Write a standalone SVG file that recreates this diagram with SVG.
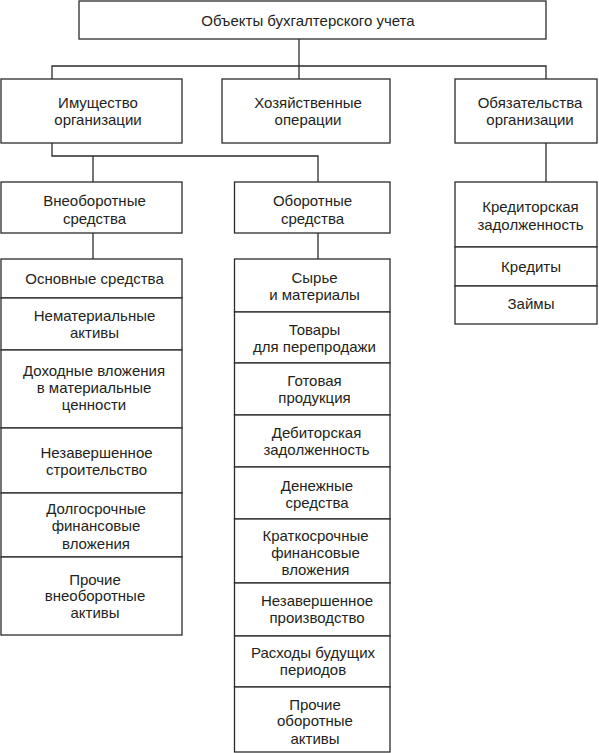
<svg xmlns="http://www.w3.org/2000/svg" width="599" height="753" viewBox="0 0 599 753">
<style>
rect{fill:#fff;stroke:#2b2b2b;stroke-width:1.3}
.c line,.c polyline{fill:none;stroke:#2b2b2b;stroke-width:1.3}
text{font-family:"Liberation Sans",Arial,sans-serif;font-size:15px;fill:#231f20;text-anchor:middle}
</style>
<rect x="0" y="0" width="599" height="753" style="stroke:none"/>
<g class="c" id="connectors">
<line x1="299" y1="39" x2="299" y2="79"/>
<polyline points="52,79 52,66 546,66 546,79"/>
<polyline points="52,143 52,156 318,156 318,182"/>
<line x1="93" y1="156" x2="93" y2="182"/>
<line x1="93" y1="233" x2="93" y2="259"/>
<line x1="318" y1="233" x2="318" y2="259"/>
<line x1="546" y1="143" x2="546" y2="182"/>
</g>
<g id="root"><rect x="79" y="1" width="467" height="38"/><text x="308" y="26">Объекты бухгалтерского учета</text></g>
<g id="imushchestvo"><rect x="1" y="79" width="181" height="64"/><text x="98" y="108">Имущество</text><text x="98" y="125">организации</text></g>
<g id="operatsii"><rect x="222" y="79" width="168" height="64"/><text x="308" y="108">Хозяйственные</text><text x="308" y="125">операции</text></g>
<g id="obyazatelstva"><rect x="455" y="79" width="142" height="64"/><text x="530" y="108">Обязательства</text><text x="530" y="125">организации</text></g>
<g id="vneoborotnye"><rect x="1" y="182" width="181" height="51"/><text x="94.5" y="206">Внеоборотные</text><text x="94.5" y="223.5">средства</text></g>
<g id="oborotnye"><rect x="234.5" y="182" width="155.5" height="51"/><text x="312.5" y="206">Оборотные</text><text x="312.5" y="223.5">средства</text></g>
<g id="kreditorskaya"><rect x="455" y="182" width="142" height="65"/><text x="530.5" y="212">Кредиторская</text><text x="530.5" y="229.5">задолженность</text></g>
<g id="kredity"><rect x="455" y="247" width="142" height="39"/><text x="531" y="272">Кредиты</text></g>
<g id="zaymy"><rect x="455" y="286" width="142" height="38"/><text x="531" y="309">Займы</text></g>
<g id="os"><rect x="1" y="259" width="181" height="39"/><text x="94.5" y="283.5">Основные средства</text></g>
<g id="nma"><rect x="1" y="298" width="181" height="52"/><text x="94.5" y="321">Нематериальные</text><text x="94.5" y="338">активы</text></g>
<g id="dvmc"><rect x="1" y="350" width="181" height="78"/><text x="94" y="376">Доходные вложения</text><text x="94" y="393">в материальные</text><text x="94" y="410">ценности</text></g>
<g id="nzs"><rect x="1" y="428" width="181" height="65"/><text x="96.5" y="458">Незавершенное</text><text x="96.5" y="474.5">строительство</text></g>
<g id="dfv"><rect x="1" y="493" width="181" height="64"/><text x="96" y="514">Долгосрочные</text><text x="96" y="531">финансовые</text><text x="96" y="548.5">вложения</text></g>
<g id="pva"><rect x="1" y="557" width="181" height="78"/><text x="95" y="584.5">Прочие</text><text x="95" y="601">внеоборотные</text><text x="95" y="618">активы</text></g>
<g id="syrye"><rect x="234.5" y="259" width="155.5" height="53"/><text x="314.5" y="283">Сырье</text><text x="314.5" y="299.5">и материалы</text></g>
<g id="tovary"><rect x="234.5" y="312" width="155.5" height="51"/><text x="314.5" y="334.5">Товары</text><text x="314.5" y="352">для перепродажи</text></g>
<g id="gp"><rect x="234.5" y="363" width="155.5" height="52"/><text x="314.5" y="385.5">Готовая</text><text x="314.5" y="403">продукция</text></g>
<g id="dz"><rect x="234.5" y="415" width="155.5" height="52"/><text x="316.5" y="438">Дебиторская</text><text x="316.5" y="454.5">задолженность</text></g>
<g id="ds"><rect x="234.5" y="467" width="155.5" height="52"/><text x="317" y="490.5">Денежные</text><text x="317" y="508">средства</text></g>
<g id="kfv"><rect x="234.5" y="519" width="155.5" height="64"/><text x="315.5" y="540.5">Краткосрочные</text><text x="315.5" y="558">финансовые</text><text x="315.5" y="574.5">вложения</text></g>
<g id="nzp"><rect x="234.5" y="583" width="155.5" height="53"/><text x="317" y="605.5">Незавершенное</text><text x="317" y="623">производство</text></g>
<g id="rbp"><rect x="234.5" y="636" width="155.5" height="51"/><text x="313" y="658">Расходы будущих</text><text x="313" y="674.5">периодов</text></g>
<g id="poa"><rect x="234.5" y="687" width="155.5" height="65"/><text x="315" y="709.5">Прочие</text><text x="315" y="726">оборотные</text><text x="315" y="743.5">активы</text></g>
</svg>
